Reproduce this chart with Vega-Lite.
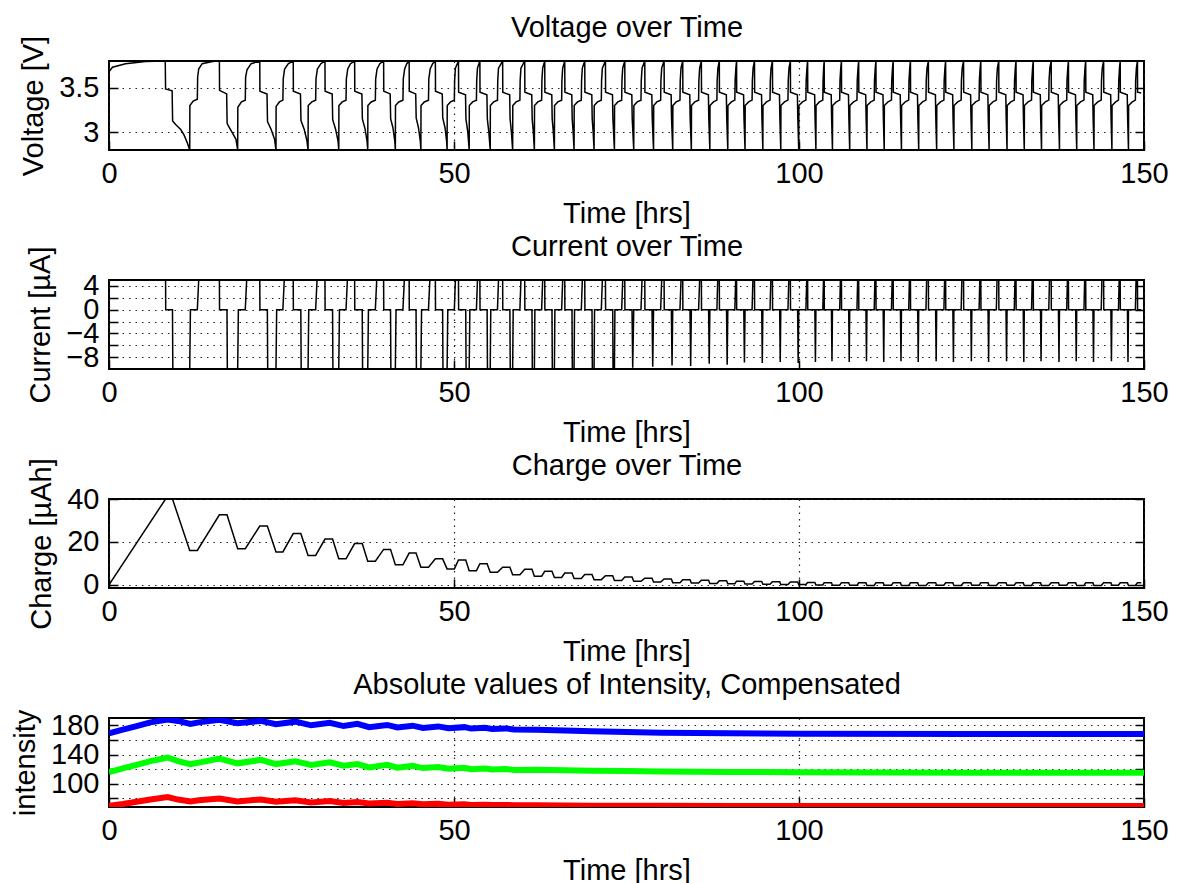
{
"$schema": "https://vega.github.io/schema/vega-lite/v6.json",
"padding": {"left": 10, "top": 12, "right": 5, "bottom": 5},
"config": {
  "font": "Liberation Sans",
  "view": {"stroke": "black", "strokeWidth": 2},
  "axis": {"labelFontSize": 29, "titleFontSize": 29, "titleFontWeight": "normal", "labelColor": "black", "titleColor": "black", "domain": false, "tickColor": "black", "tickSize": -9, "tickWidth": 1.5, "labelPadding": 19, "titlePadding": 10, "gridColor": "#222222", "gridDash": [1.5, 5], "gridWidth": 1.2, "gridOpacity": 1, "labelFlush": false, "labelOverlap": false},
  "axisX": {"labelPadding": 18, "titlePadding": 11}
},
"datasets": {
"volt": [
{"t":0,"v":3.68},{"t":0.5,"v":3.73},{"t":2.4,"v":3.77},{"t":5.3,"v":3.795},{"t":8.15,"v":3.8},{"t":8.2,"v":3.485},{"t":9.15,"v":3.465},{"t":9.22,"v":3.125},{"t":9.66,"v":3.087},{"t":10.39,"v":3.03},{"t":10.87,"v":2.97},{"t":11.35,"v":2.88},{"t":11.7,"v":2.8},{"t":11.72,"v":3.3},{"t":12.2,"v":3.35},{"t":12.8,"v":3.37},
{"t":12.85,"v":3.62},{"t":13.0,"v":3.71},{"t":13.5,"v":3.77},{"t":15.0,"v":3.795},{"t":16.0,"v":3.8},{"t":16.02,"v":3.47},{"t":17.05,"v":3.43},{"t":17.12,"v":3.1},{"t":17.3,"v":3.07},{"t":17.9,"v":2.99},{"t":18.4,"v":2.92},{"t":18.65,"v":2.8},{"t":18.67,"v":3.28},{"t":19.2,"v":3.34},{"t":19.75,"v":3.36},
{"t":19.8,"v":3.62},{"t":20.0,"v":3.7},{"t":20.6,"v":3.77},{"t":21.85,"v":3.8},{"t":21.87,"v":3.46},{"t":22.9,"v":3.43},{"t":22.97,"v":3.12},{"t":23.5,"v":3.03},{"t":24.0,"v":2.92},{"t":24.2,"v":2.8},{"t":24.22,"v":3.29},{"t":24.7,"v":3.34},{"t":25.2,"v":3.36},
{"t":25.25,"v":3.6},{"t":25.45,"v":3.71},{"t":26.0,"v":3.77},{"t":26.7,"v":3.8},{"t":26.72,"v":3.46},{"t":27.75,"v":3.43},{"t":27.82,"v":3.13},{"t":28.3,"v":3.03},{"t":28.7,"v":2.9},{"t":28.85,"v":2.8},{"t":28.87,"v":3.3},{"t":29.4,"v":3.34},{"t":29.95,"v":3.36},
{"t":30.0,"v":3.6},{"t":30.2,"v":3.71},{"t":30.7,"v":3.77},{"t":31.3,"v":3.8},{"t":31.32,"v":3.46},{"t":32.35,"v":3.43},{"t":32.42,"v":3.14},{"t":32.85,"v":3.03},{"t":33.2,"v":2.9},{"t":33.3,"v":2.8},{"t":33.32,"v":3.3},{"t":33.8,"v":3.34},{"t":34.35,"v":3.36},
{"t":34.4,"v":3.6},{"t":34.6,"v":3.71},{"t":35.0,"v":3.77},{"t":35.6,"v":3.8},{"t":35.62,"v":3.46},{"t":36.65,"v":3.43},{"t":36.72,"v":3.15},{"t":37.1,"v":3.04},{"t":37.4,"v":2.9},{"t":37.5,"v":2.8},{"t":37.52,"v":3.3},{"t":38.0,"v":3.34},{"t":38.6,"v":3.36},
{"t":38.65,"v":3.6},{"t":38.85,"v":3.71},{"t":39.25,"v":3.77},{"t":39.8,"v":3.8},{"t":39.82,"v":3.46},{"t":40.75,"v":3.43},{"t":40.82,"v":3.15},{"t":41.15,"v":3.05},{"t":41.42,"v":2.9},{"t":41.5,"v":2.8},{"t":41.52,"v":3.3},{"t":42.0,"v":3.34},{"t":42.6,"v":3.36},
{"t":42.65,"v":3.6},{"t":42.85,"v":3.71},{"t":43.15,"v":3.77},{"t":43.5,"v":3.8},{"t":43.52,"v":3.46},{"t":44.45,"v":3.43},{"t":44.52,"v":3.16},{"t":44.85,"v":3.05},{"t":45.12,"v":2.9},{"t":45.2,"v":2.8},{"t":45.22,"v":3.3},{"t":45.7,"v":3.34},{"t":46.3,"v":3.36},
{"t":46.35,"v":3.6},{"t":46.55,"v":3.71},{"t":46.9,"v":3.77},{"t":47.3,"v":3.8},{"t":47.32,"v":3.46},{"t":48.3,"v":3.43},{"t":48.37,"v":3.16},{"t":48.7,"v":3.05},{"t":48.93,"v":2.9},{"t":49.0,"v":2.8},{"t":49.02,"v":3.3},{"t":49.5,"v":3.34},{"t":50.05,"v":3.36},
{"t":50.09,"v":3.58},{"t":50.2,"v":3.72},{"t":50.65,"v":3.8},{"t":50.67,"v":3.45},{"t":51.67,"v":3.42},{"t":51.73,"v":3.15},{"t":52.0,"v":3.0},{"t":52.2,"v":2.8},{"t":52.22,"v":3.3},{"t":52.7,"v":3.34},
{"t":53.25,"v":3.36},{"t":53.29,"v":3.58},{"t":53.4,"v":3.72},{"t":53.75,"v":3.8},{"t":53.77,"v":3.45},{"t":54.77,"v":3.42},{"t":54.83,"v":3.15},{"t":55.05,"v":3.0},{"t":55.25,"v":2.8},{"t":55.27,"v":3.3},{"t":55.75,"v":3.34},
{"t":56.3,"v":3.36},{"t":56.34,"v":3.58},{"t":56.45,"v":3.72},{"t":57.05,"v":3.8},{"t":57.07,"v":3.45},{"t":58.07,"v":3.42},{"t":58.13,"v":3.15},{"t":58.32,"v":3.0},{"t":58.5,"v":2.8},{"t":58.52,"v":3.3},{"t":59.0,"v":3.34},
{"t":59.55,"v":3.36},{"t":59.59,"v":3.58},{"t":59.7,"v":3.72},{"t":60.25,"v":3.8},{"t":60.27,"v":3.45},{"t":61.27,"v":3.42},{"t":61.33,"v":3.15},{"t":61.5,"v":3.0},{"t":61.65,"v":2.8},{"t":61.67,"v":3.3},{"t":62.15,"v":3.34},
{"t":62.7,"v":3.36},{"t":62.74,"v":3.58},{"t":62.85,"v":3.72},{"t":63.15,"v":3.8},{"t":63.17,"v":3.45},{"t":64.17,"v":3.42},{"t":64.23,"v":3.15},{"t":64.4,"v":3.0},{"t":64.55,"v":2.8},{"t":64.57,"v":3.3},{"t":65.05,"v":3.34},
{"t":65.6,"v":3.36},{"t":65.64,"v":3.58},{"t":65.75,"v":3.72},{"t":66.05,"v":3.8},{"t":66.07,"v":3.45},{"t":67.07,"v":3.42},{"t":67.13,"v":3.15},{"t":67.27,"v":3.0},{"t":67.4,"v":2.8},{"t":67.42,"v":3.3},{"t":67.9,"v":3.34},
{"t":68.45,"v":3.36},{"t":68.49,"v":3.58},{"t":68.6,"v":3.72},{"t":68.95,"v":3.8},{"t":68.97,"v":3.45},{"t":69.97,"v":3.42},{"t":70.03,"v":3.15},{"t":70.17,"v":3.0},{"t":70.3,"v":2.8},{"t":70.32,"v":3.3},{"t":70.8,"v":3.34},
{"t":71.35,"v":3.36},{"t":71.39,"v":3.58},{"t":71.5,"v":3.72},{"t":71.95,"v":3.8},{"t":71.97,"v":3.45},{"t":72.97,"v":3.42},{"t":73.03,"v":3.15},{"t":73.25,"v":2.8},{"t":73.27,"v":3.3},{"t":73.75,"v":3.34},
{"t":74.3,"v":3.36},{"t":74.34,"v":3.58},{"t":74.45,"v":3.72},{"t":74.75,"v":3.8},{"t":74.77,"v":3.45},{"t":75.77,"v":3.42},{"t":75.83,"v":3.15},{"t":76.05,"v":2.8},{"t":76.07,"v":3.3},{"t":76.55,"v":3.34},
{"t":77.1,"v":3.36},{"t":77.14,"v":3.58},{"t":77.25,"v":3.72},{"t":77.65,"v":3.8},{"t":77.67,"v":3.45},{"t":78.67,"v":3.42},{"t":78.73,"v":3.15},{"t":78.92,"v":2.8},{"t":78.94,"v":3.3},{"t":79.4,"v":3.34},
{"t":79.95,"v":3.36},{"t":79.99,"v":3.58},{"t":80.1,"v":3.72},{"t":80.45,"v":3.8},{"t":80.47,"v":3.45},{"t":81.47,"v":3.42},{"t":81.53,"v":3.15},{"t":81.7,"v":2.8},{"t":81.72,"v":3.3},{"t":82.2,"v":3.34},
{"t":82.75,"v":3.36},{"t":82.79,"v":3.58},{"t":82.9,"v":3.72},{"t":83.15,"v":3.8},{"t":83.17,"v":3.45},{"t":84.17,"v":3.42},{"t":84.23,"v":3.15},{"t":84.4,"v":2.8},{"t":84.42,"v":3.3},{"t":84.9,"v":3.34},
{"t":85.45,"v":3.36},{"t":85.49,"v":3.58},{"t":85.6,"v":3.72},{"t":85.85,"v":3.8},{"t":85.87,"v":3.45},{"t":86.87,"v":3.42},{"t":86.93,"v":3.15},{"t":87.08,"v":2.8},{"t":87.1,"v":3.3},{"t":87.6,"v":3.34},
{"t":88.1,"v":3.36},{"t":88.14,"v":3.58},{"t":88.25,"v":3.72},{"t":88.45,"v":3.8},{"t":88.47,"v":3.45},{"t":89.47,"v":3.42},{"t":89.53,"v":3.15},{"t":89.68,"v":2.8},{"t":89.7,"v":3.3},{"t":90.2,"v":3.34},
{"t":90.7,"v":3.36},{"t":90.74,"v":3.58},{"t":90.85,"v":3.72},{"t":90.95,"v":3.8},{"t":90.97,"v":3.45},{"t":91.97,"v":3.42},{"t":92.03,"v":3.15},{"t":92.18,"v":2.8},{"t":92.2,"v":3.3},{"t":92.7,"v":3.34},
{"t":93.2,"v":3.36},{"t":93.24,"v":3.58},{"t":93.35,"v":3.72},{"t":93.55,"v":3.8},{"t":93.57,"v":3.45},{"t":94.57,"v":3.42},{"t":94.63,"v":3.15},{"t":94.76,"v":2.8},{"t":94.78,"v":3.3},{"t":95.3,"v":3.34},
{"t":95.8,"v":3.36},{"t":95.84,"v":3.58},{"t":95.95,"v":3.72},{"t":96.15,"v":3.8},{"t":96.17,"v":3.45},{"t":97.17,"v":3.42},{"t":97.23,"v":3.15},{"t":97.36,"v":2.8},{"t":97.38,"v":3.3},{"t":97.9,"v":3.34},
{"t":98.4,"v":3.36},{"t":98.44,"v":3.58},{"t":98.55,"v":3.72},{"t":98.75,"v":3.8},{"t":98.77,"v":3.45},{"t":99.77,"v":3.42},{"t":99.83,"v":3.15},{"t":99.96,"v":2.8},{"t":99.98,"v":3.3},{"t":100.5,"v":3.34},
{"t":101.0,"v":3.36},{"t":101.04,"v":3.58},{"t":101.15,"v":3.72},{"t":101.25,"v":3.8},{"t":101.27,"v":3.45},{"t":102.27,"v":3.42},{"t":102.33,"v":3.15},{"t":102.45,"v":2.8},{"t":102.47,"v":3.3},{"t":102.95,"v":3.34},
{"t":103.45,"v":3.36},{"t":103.49,"v":3.58},{"t":103.57,"v":3.72},{"t":103.65,"v":3.8},{"t":103.67,"v":3.45},{"t":104.67,"v":3.42},{"t":104.73,"v":3.15},{"t":104.85,"v":2.8},{"t":104.87,"v":3.3},{"t":105.4,"v":3.34},
{"t":105.9,"v":3.36},{"t":105.94,"v":3.58},{"t":106.05,"v":3.72},{"t":106.15,"v":3.8},{"t":106.17,"v":3.45},{"t":107.17,"v":3.42},{"t":107.23,"v":3.15},{"t":107.35,"v":2.8},{"t":107.37,"v":3.3},{"t":107.9,"v":3.34},
{"t":108.4,"v":3.36},{"t":108.44,"v":3.58},{"t":108.55,"v":3.72},{"t":108.65,"v":3.8},{"t":108.67,"v":3.45},{"t":109.67,"v":3.42},{"t":109.73,"v":3.15},{"t":109.85,"v":2.8},{"t":109.87,"v":3.3},{"t":110.4,"v":3.34},
{"t":110.9,"v":3.36},{"t":110.94,"v":3.58},{"t":111.05,"v":3.72},{"t":111.15,"v":3.8},{"t":111.17,"v":3.45},{"t":112.17,"v":3.42},{"t":112.23,"v":3.15},{"t":112.35,"v":2.8},{"t":112.37,"v":3.3},{"t":112.9,"v":3.34},
{"t":113.4,"v":3.36},{"t":113.44,"v":3.58},{"t":113.55,"v":3.72},{"t":113.65,"v":3.8},{"t":113.67,"v":3.45},{"t":114.67,"v":3.42},{"t":114.73,"v":3.15},{"t":114.85,"v":2.8},{"t":114.87,"v":3.3},{"t":115.4,"v":3.34},
{"t":115.9,"v":3.36},{"t":115.94,"v":3.58},{"t":116.05,"v":3.72},{"t":116.15,"v":3.8},{"t":116.17,"v":3.45},{"t":117.17,"v":3.42},{"t":117.23,"v":3.15},{"t":117.35,"v":2.8},{"t":117.37,"v":3.3},{"t":117.9,"v":3.34},
{"t":118.4,"v":3.36},{"t":118.44,"v":3.58},{"t":118.55,"v":3.72},{"t":118.75,"v":3.8},{"t":118.77,"v":3.45},{"t":119.77,"v":3.42},{"t":119.83,"v":3.15},{"t":119.95,"v":2.8},{"t":119.97,"v":3.3},{"t":120.5,"v":3.34},
{"t":121.0,"v":3.36},{"t":121.04,"v":3.58},{"t":121.15,"v":3.72},{"t":121.25,"v":3.8},{"t":121.27,"v":3.45},{"t":122.27,"v":3.42},{"t":122.33,"v":3.15},{"t":122.45,"v":2.8},{"t":122.47,"v":3.3},{"t":123.0,"v":3.34},
{"t":123.5,"v":3.36},{"t":123.54,"v":3.58},{"t":123.65,"v":3.72},{"t":123.85,"v":3.8},{"t":123.87,"v":3.45},{"t":124.87,"v":3.42},{"t":124.93,"v":3.15},{"t":125.05,"v":2.8},{"t":125.07,"v":3.3},{"t":125.6,"v":3.34},
{"t":126.1,"v":3.36},{"t":126.14,"v":3.58},{"t":126.25,"v":3.72},{"t":126.35,"v":3.8},{"t":126.37,"v":3.45},{"t":127.37,"v":3.42},{"t":127.43,"v":3.15},{"t":127.55,"v":2.8},{"t":127.57,"v":3.3},{"t":128.1,"v":3.34},
{"t":128.6,"v":3.36},{"t":128.64,"v":3.58},{"t":128.75,"v":3.72},{"t":128.95,"v":3.8},{"t":128.97,"v":3.45},{"t":129.97,"v":3.42},{"t":130.03,"v":3.15},{"t":130.15,"v":2.8},{"t":130.17,"v":3.3},{"t":130.7,"v":3.34},
{"t":131.2,"v":3.36},{"t":131.24,"v":3.58},{"t":131.35,"v":3.72},{"t":131.45,"v":3.8},{"t":131.47,"v":3.45},{"t":132.47,"v":3.42},{"t":132.53,"v":3.15},{"t":132.65,"v":2.8},{"t":132.67,"v":3.3},{"t":133.2,"v":3.34},
{"t":133.7,"v":3.36},{"t":133.74,"v":3.58},{"t":133.85,"v":3.72},{"t":133.95,"v":3.8},{"t":133.97,"v":3.45},{"t":134.97,"v":3.42},{"t":135.03,"v":3.15},{"t":135.15,"v":2.8},{"t":135.17,"v":3.3},{"t":135.7,"v":3.34},
{"t":136.2,"v":3.36},{"t":136.24,"v":3.58},{"t":136.35,"v":3.72},{"t":136.55,"v":3.8},{"t":136.57,"v":3.45},{"t":137.57,"v":3.42},{"t":137.63,"v":3.15},{"t":137.75,"v":2.8},{"t":137.77,"v":3.3},{"t":138.3,"v":3.34},
{"t":138.8,"v":3.36},{"t":138.84,"v":3.58},{"t":138.95,"v":3.72},{"t":139.05,"v":3.8},{"t":139.07,"v":3.45},{"t":140.07,"v":3.42},{"t":140.13,"v":3.15},{"t":140.25,"v":2.8},{"t":140.27,"v":3.3},{"t":140.8,"v":3.34},
{"t":141.3,"v":3.36},{"t":141.34,"v":3.58},{"t":141.45,"v":3.72},{"t":141.55,"v":3.8},{"t":141.57,"v":3.45},{"t":142.57,"v":3.42},{"t":142.63,"v":3.15},{"t":142.75,"v":2.8},{"t":142.77,"v":3.3},{"t":143.3,"v":3.34},
{"t":143.8,"v":3.36},{"t":143.84,"v":3.58},{"t":143.95,"v":3.72},{"t":144.15,"v":3.8},{"t":144.17,"v":3.45},{"t":145.17,"v":3.42},{"t":145.23,"v":3.15},{"t":145.35,"v":2.8},{"t":145.37,"v":3.3},{"t":145.9,"v":3.34},
{"t":146.3,"v":3.36},{"t":146.34,"v":3.58},{"t":146.45,"v":3.72},{"t":146.55,"v":3.8},{"t":146.57,"v":3.45},{"t":147.57,"v":3.42},{"t":147.63,"v":3.15},{"t":147.75,"v":2.8},{"t":147.77,"v":3.3},{"t":148.3,"v":3.34},
{"t":148.75,"v":3.36},{"t":148.79,"v":3.58},{"t":148.9,"v":3.72},{"t":149.05,"v":3.8},{"t":149.07,"v":3.45},{"t":149.6,"v":3.44}
],
"curr": [
{"t":0,"i":5},{"t":8.2,"i":5},{"t":8.22,"i":0},{"t":9.2,"i":0},{"t":9.25,"i":-10},{"t":11.7,"i":-10},{"t":11.8,"i":0},{"t":12.8,"i":0},{"t":13.0,"i":5},
{"t":16.0,"i":5},{"t":16.02,"i":0},{"t":17.1,"i":0},{"t":17.15,"i":-10},{"t":18.65,"i":-10},{"t":18.75,"i":0},{"t":19.75,"i":0},{"t":19.95,"i":5},
{"t":21.85,"i":5},{"t":21.87,"i":0},{"t":22.95,"i":0},{"t":23.0,"i":-10},{"t":24.2,"i":-10},{"t":24.3,"i":0},{"t":25.2,"i":0},{"t":25.4,"i":5},
{"t":26.7,"i":5},{"t":26.72,"i":0},{"t":27.8,"i":0},{"t":27.85,"i":-10},{"t":28.85,"i":-10},{"t":28.95,"i":0},{"t":29.95,"i":0},{"t":30.15,"i":5},
{"t":31.3,"i":5},{"t":31.32,"i":0},{"t":32.4,"i":0},{"t":32.45,"i":-10},{"t":33.3,"i":-10},{"t":33.4,"i":0},{"t":34.35,"i":0},{"t":34.55,"i":5},
{"t":35.6,"i":5},{"t":35.62,"i":0},{"t":36.7,"i":0},{"t":36.75,"i":-10},{"t":37.5,"i":-10},{"t":37.6,"i":0},{"t":38.6,"i":0},{"t":38.8,"i":5},
{"t":39.8,"i":5},{"t":39.82,"i":0},{"t":40.8,"i":0},{"t":40.85,"i":-10},{"t":41.5,"i":-10},{"t":41.6,"i":0},{"t":42.6,"i":0},{"t":42.8,"i":5},
{"t":43.5,"i":5},{"t":43.52,"i":0},{"t":44.5,"i":0},{"t":44.55,"i":-10},{"t":45.2,"i":-10},{"t":45.3,"i":0},{"t":46.3,"i":0},{"t":46.5,"i":5},
{"t":47.3,"i":5},{"t":47.32,"i":0},{"t":48.35,"i":0},{"t":48.4,"i":-10},{"t":49.0,"i":-10},{"t":49.1,"i":0},{"t":50.05,"i":0},{"t":50.2,"i":5},
{"t":50.65,"i":5},{"t":50.67,"i":0},{"t":51.7,"i":0},{"t":51.75,"i":-10},{"t":52.2,"i":-10},{"t":52.3,"i":0},{"t":53.25,"i":0},{"t":53.4,"i":5},
{"t":53.75,"i":5},{"t":53.77,"i":0},{"t":54.8,"i":0},{"t":54.85,"i":-10},{"t":55.25,"i":-10},{"t":55.33,"i":0},{"t":56.3,"i":0},{"t":56.45,"i":5},
{"t":57.05,"i":5},{"t":57.07,"i":0},{"t":58.1,"i":0},{"t":58.15,"i":-10},{"t":58.5,"i":-10},{"t":58.58,"i":0},{"t":59.55,"i":0},{"t":59.7,"i":5},
{"t":60.25,"i":5},{"t":60.27,"i":0},{"t":61.3,"i":0},{"t":61.35,"i":-10},{"t":61.65,"i":-10},{"t":61.72,"i":0},{"t":62.7,"i":0},{"t":62.85,"i":5},
{"t":63.15,"i":5},{"t":63.17,"i":0},{"t":64.2,"i":0},{"t":64.25,"i":-10},{"t":64.55,"i":-10},{"t":64.62,"i":0},{"t":65.6,"i":0},{"t":65.75,"i":5},
{"t":66.05,"i":5},{"t":66.07,"i":0},{"t":67.1,"i":0},{"t":67.15,"i":-10},{"t":67.4,"i":-10},{"t":67.47,"i":0},{"t":68.45,"i":0},{"t":68.6,"i":5},
{"t":68.95,"i":5},{"t":68.97,"i":0},{"t":70.0,"i":0},{"t":70.05,"i":-10},{"t":70.3,"i":-10},{"t":70.37,"i":0},{"t":71.35,"i":0},{"t":71.5,"i":5},
{"t":71.95,"i":5},{"t":71.97,"i":0},{"t":73.0,"i":0},{"t":73.05,"i":-10},{"t":73.25,"i":-10},{"t":73.32,"i":0},{"t":74.3,"i":0},{"t":74.45,"i":5},
{"t":74.75,"i":5},{"t":74.77,"i":0},{"t":75.8,"i":0},{"t":75.9,"i":-9.8},{"t":76.05,"i":0},{"t":77.1,"i":0},{"t":77.25,"i":5},
{"t":77.65,"i":5},{"t":77.67,"i":0},{"t":78.7,"i":0},{"t":78.8,"i":-9.6},{"t":78.92,"i":0},{"t":79.95,"i":0},{"t":80.1,"i":5},
{"t":80.45,"i":5},{"t":80.47,"i":0},{"t":81.5,"i":0},{"t":81.6,"i":-9.4},{"t":81.7,"i":0},{"t":82.75,"i":0},{"t":82.9,"i":5},
{"t":83.15,"i":5},{"t":83.17,"i":0},{"t":84.2,"i":0},{"t":84.3,"i":-9.5},{"t":84.4,"i":0},{"t":85.45,"i":0},{"t":85.6,"i":5},
{"t":85.85,"i":5},{"t":85.87,"i":0},{"t":86.9,"i":0},{"t":86.99,"i":-9.1},{"t":87.08,"i":0},{"t":88.1,"i":0},{"t":88.22,"i":5},
{"t":88.45,"i":5},{"t":88.47,"i":0},{"t":89.5,"i":0},{"t":89.59,"i":-9.3},{"t":89.68,"i":0},{"t":90.7,"i":0},{"t":90.82,"i":5},
{"t":90.95,"i":5},{"t":90.97,"i":0},{"t":92.0,"i":0},{"t":92.09,"i":-8.9},{"t":92.18,"i":0},{"t":93.2,"i":0},{"t":93.32,"i":5},
{"t":93.55,"i":5},{"t":93.57,"i":0},{"t":94.6,"i":0},{"t":94.68,"i":-9.0},{"t":94.76,"i":0},{"t":95.8,"i":0},{"t":95.92,"i":5},
{"t":96.15,"i":5},{"t":96.17,"i":0},{"t":97.2,"i":0},{"t":97.28,"i":-8.8},{"t":97.36,"i":0},{"t":98.4,"i":0},{"t":98.52,"i":5},
{"t":98.75,"i":5},{"t":98.77,"i":0},{"t":99.8,"i":0},{"t":99.88,"i":-9.0},{"t":99.96,"i":0},{"t":101.0,"i":0},{"t":101.12,"i":5},
{"t":101.25,"i":5},{"t":101.27,"i":0},{"t":102.3,"i":0},{"t":102.38,"i":-8.8},{"t":102.45,"i":0},{"t":103.45,"i":0},{"t":103.55,"i":5},
{"t":103.65,"i":5},{"t":103.67,"i":0},{"t":104.7,"i":0},{"t":104.78,"i":-8.7},{"t":104.85,"i":0},{"t":105.9,"i":0},{"t":106.0,"i":5},
{"t":106.15,"i":5},{"t":106.17,"i":0},{"t":107.2,"i":0},{"t":107.28,"i":-8.8},{"t":107.35,"i":0},{"t":108.4,"i":0},{"t":108.5,"i":5},
{"t":108.65,"i":5},{"t":108.67,"i":0},{"t":109.7,"i":0},{"t":109.78,"i":-8.7},{"t":109.85,"i":0},{"t":110.9,"i":0},{"t":111.0,"i":5},
{"t":111.15,"i":5},{"t":111.17,"i":0},{"t":112.2,"i":0},{"t":112.28,"i":-8.8},{"t":112.35,"i":0},{"t":113.4,"i":0},{"t":113.5,"i":5},
{"t":113.65,"i":5},{"t":113.67,"i":0},{"t":114.7,"i":0},{"t":114.78,"i":-8.7},{"t":114.85,"i":0},{"t":115.9,"i":0},{"t":116.0,"i":5},
{"t":116.15,"i":5},{"t":116.17,"i":0},{"t":117.2,"i":0},{"t":117.28,"i":-8.8},{"t":117.35,"i":0},{"t":118.4,"i":0},{"t":118.5,"i":5},
{"t":118.75,"i":5},{"t":118.77,"i":0},{"t":119.8,"i":0},{"t":119.88,"i":-8.7},{"t":119.95,"i":0},{"t":121.0,"i":0},{"t":121.1,"i":5},
{"t":121.25,"i":5},{"t":121.27,"i":0},{"t":122.3,"i":0},{"t":122.38,"i":-8.8},{"t":122.45,"i":0},{"t":123.5,"i":0},{"t":123.6,"i":5},
{"t":123.85,"i":5},{"t":123.87,"i":0},{"t":124.9,"i":0},{"t":124.98,"i":-8.7},{"t":125.05,"i":0},{"t":126.1,"i":0},{"t":126.2,"i":5},
{"t":126.35,"i":5},{"t":126.37,"i":0},{"t":127.4,"i":0},{"t":127.48,"i":-8.8},{"t":127.55,"i":0},{"t":128.6,"i":0},{"t":128.7,"i":5},
{"t":128.95,"i":5},{"t":128.97,"i":0},{"t":130.0,"i":0},{"t":130.08,"i":-8.7},{"t":130.15,"i":0},{"t":131.2,"i":0},{"t":131.3,"i":5},
{"t":131.45,"i":5},{"t":131.47,"i":0},{"t":132.5,"i":0},{"t":132.58,"i":-8.8},{"t":132.65,"i":0},{"t":133.7,"i":0},{"t":133.8,"i":5},
{"t":133.95,"i":5},{"t":133.97,"i":0},{"t":135.0,"i":0},{"t":135.08,"i":-8.7},{"t":135.15,"i":0},{"t":136.2,"i":0},{"t":136.3,"i":5},
{"t":136.55,"i":5},{"t":136.57,"i":0},{"t":137.6,"i":0},{"t":137.68,"i":-8.8},{"t":137.75,"i":0},{"t":138.8,"i":0},{"t":138.9,"i":5},
{"t":139.05,"i":5},{"t":139.07,"i":0},{"t":140.1,"i":0},{"t":140.18,"i":-8.7},{"t":140.25,"i":0},{"t":141.3,"i":0},{"t":141.4,"i":5},
{"t":141.55,"i":5},{"t":141.57,"i":0},{"t":142.6,"i":0},{"t":142.68,"i":-8.8},{"t":142.75,"i":0},{"t":143.8,"i":0},{"t":143.9,"i":5},
{"t":144.15,"i":5},{"t":144.17,"i":0},{"t":145.2,"i":0},{"t":145.28,"i":-8.7},{"t":145.35,"i":0},{"t":146.3,"i":0},{"t":146.4,"i":5},
{"t":146.55,"i":5},{"t":146.57,"i":0},{"t":147.6,"i":0},{"t":147.68,"i":-8.8},{"t":147.75,"i":0},{"t":148.75,"i":0},{"t":148.85,"i":5},
{"t":149.05,"i":5},{"t":149.07,"i":0},{"t":149.6,"i":0}
],
"chg": [
{"t":0,"q":0},{"t":8.2,"q":40},{"t":9.2,"q":40},{"t":11.7,"q":16},
{"t":12.8,"q":16},{"t":16.0,"q":32.6},{"t":17.1,"q":32.6},{"t":18.65,"q":16.8},
{"t":19.75,"q":16.8},{"t":21.85,"q":27.4},{"t":22.95,"q":27.4},{"t":24.2,"q":15.3},
{"t":25.2,"q":15.3},{"t":26.7,"q":23.9},{"t":27.8,"q":23.9},{"t":28.85,"q":13.7},
{"t":29.95,"q":13.7},{"t":31.3,"q":21.3},{"t":32.4,"q":21.3},{"t":33.3,"q":12.1},
{"t":34.35,"q":12.1},{"t":35.6,"q":19.2},{"t":36.7,"q":19.2},{"t":37.5,"q":11.0},
{"t":38.6,"q":11.0},{"t":39.8,"q":16.5},{"t":40.8,"q":16.5},{"t":41.5,"q":9.3},
{"t":42.6,"q":9.3},{"t":43.5,"q":14.8},{"t":44.5,"q":14.8},{"t":45.2,"q":8.2},
{"t":46.3,"q":8.2},{"t":47.3,"q":12.1},{"t":48.35,"q":12.1},{"t":49.0,"q":7.4},
{"t":50.05,"q":7.4},{"t":50.65,"q":11.6},{"t":51.7,"q":11.6},{"t":52.2,"q":6.6},
{"t":53.25,"q":6.6},{"t":53.75,"q":9.8},{"t":54.8,"q":9.8},{"t":55.25,"q":5.8},
{"t":56.3,"q":5.8},{"t":57.05,"q":8.2},{"t":58.1,"q":8.2},{"t":58.5,"q":4.7},
{"t":59.55,"q":4.7},{"t":60.25,"q":7.2},{"t":61.3,"q":7.2},{"t":61.65,"q":4.0},
{"t":62.7,"q":4.0},{"t":63.15,"q":6.3},{"t":64.2,"q":6.3},{"t":64.55,"q":3.4},
{"t":65.6,"q":3.4},{"t":66.05,"q":5.5},{"t":67.1,"q":5.5},{"t":67.4,"q":2.9},
{"t":68.45,"q":2.9},{"t":68.95,"q":4.8},{"t":70.0,"q":4.8},{"t":70.3,"q":2.4},
{"t":71.35,"q":2.4},{"t":71.95,"q":4.2},{"t":73.0,"q":4.2},{"t":73.25,"q":2.0},
{"t":74.3,"q":2.0},{"t":74.75,"q":3.6},{"t":75.8,"q":3.6},{"t":76.05,"q":1.6},
{"t":77.1,"q":1.6},{"t":77.65,"q":3.1},{"t":78.7,"q":3.1},{"t":78.92,"q":1.3},
{"t":79.95,"q":1.3},{"t":80.45,"q":2.7},{"t":81.5,"q":2.7},{"t":81.7,"q":1.0},
{"t":82.75,"q":1.0},{"t":83.15,"q":2.4},{"t":84.2,"q":2.4},{"t":84.4,"q":0.8},
{"t":85.45,"q":0.8},{"t":85.85,"q":2.1},{"t":86.9,"q":2.1},{"t":87.08,"q":0.6},
{"t":88.1,"q":0.6},{"t":88.45,"q":1.9},{"t":89.5,"q":1.9},{"t":89.68,"q":0.5},
{"t":90.7,"q":0.5},{"t":90.95,"q":1.7},{"t":92.0,"q":1.7},{"t":92.18,"q":0.35},
{"t":93.2,"q":0.35},{"t":93.55,"q":1.5},{"t":94.6,"q":1.5},{"t":94.76,"q":0.25},
{"t":95.8,"q":0.25},{"t":96.15,"q":1.4},{"t":97.2,"q":1.4},{"t":97.36,"q":0.15},
{"t":98.4,"q":0.15},{"t":98.75,"q":1.3},{"t":99.8,"q":1.3},{"t":99.96,"q":0.1},
{"t":101.0,"q":0.1},{"t":101.25,"q":1.1},{"t":102.3,"q":1.1},{"t":102.45,"q":-0.1},
{"t":103.45,"q":-0.1},{"t":103.65,"q":1.0},{"t":104.7,"q":1.0},{"t":104.85,"q":-0.2},
{"t":105.9,"q":-0.2},{"t":106.15,"q":1.0},{"t":107.2,"q":1.0},{"t":107.35,"q":-0.2},
{"t":108.4,"q":-0.2},{"t":108.65,"q":0.9},{"t":109.7,"q":0.9},{"t":109.85,"q":-0.3},
{"t":110.9,"q":-0.3},{"t":111.15,"q":1.0},{"t":112.2,"q":1.0},{"t":112.35,"q":-0.2},
{"t":113.4,"q":-0.2},{"t":113.65,"q":0.9},{"t":114.7,"q":0.9},{"t":114.85,"q":-0.3},
{"t":115.9,"q":-0.3},{"t":116.15,"q":0.9},{"t":117.2,"q":0.9},{"t":117.35,"q":-0.3},
{"t":118.4,"q":-0.3},{"t":118.75,"q":1.0},{"t":119.8,"q":1.0},{"t":119.95,"q":-0.2},
{"t":121.0,"q":-0.2},{"t":121.25,"q":0.9},{"t":122.3,"q":0.9},{"t":122.45,"q":-0.3},
{"t":123.5,"q":-0.3},{"t":123.85,"q":1.0},{"t":124.9,"q":1.0},{"t":125.05,"q":-0.2},
{"t":126.1,"q":-0.2},{"t":126.35,"q":0.9},{"t":127.4,"q":0.9},{"t":127.55,"q":-0.3},
{"t":128.6,"q":-0.3},{"t":128.95,"q":1.0},{"t":130.0,"q":1.0},{"t":130.15,"q":-0.2},
{"t":131.2,"q":-0.2},{"t":131.45,"q":0.9},{"t":132.5,"q":0.9},{"t":132.65,"q":-0.3},
{"t":133.7,"q":-0.3},{"t":133.95,"q":0.9},{"t":135.0,"q":0.9},{"t":135.15,"q":-0.3},
{"t":136.2,"q":-0.3},{"t":136.55,"q":1.0},{"t":137.6,"q":1.0},{"t":137.75,"q":-0.2},
{"t":138.8,"q":-0.2},{"t":139.05,"q":0.9},{"t":140.1,"q":0.9},{"t":140.25,"q":-0.3},
{"t":141.3,"q":-0.3},{"t":141.55,"q":0.9},{"t":142.6,"q":0.9},{"t":142.75,"q":-0.3},
{"t":143.8,"q":-0.3},{"t":144.15,"q":1.0},{"t":145.2,"q":1.0},{"t":145.35,"q":-0.2},
{"t":146.3,"q":-0.2},{"t":146.55,"q":0.9},{"t":147.6,"q":0.9},{"t":147.75,"q":-0.3},
{"t":148.75,"q":-0.3},{"t":149.05,"q":1.0},{"t":149.6,"q":1.0}
],
"inten": [
{"t":0,"b":169,"g":116,"r":70},{"t":2,"b":174,"g":121,"r":72.5},{"t":4,"b":179,"g":126,"r":75.5},{"t":6,"b":184,"g":131,"r":78.5},{"t":8.5,"b":188,"g":136,"r":82},{"t":10,"b":186,"g":131,"r":78.5},{"t":11.8,"b":182,"g":127,"r":76},{"t":13,"b":184,"g":129,"r":77.5},{"t":16,"b":187.5,"g":134.5,"r":80},{"t":18.6,"b":183,"g":128,"r":76},{"t":22,"b":186,"g":132.7,"r":78.6},{"t":24.2,"b":181.5,"g":127,"r":75.5},{"t":27,"b":185,"g":130.7,"r":77.5},{"t":29.3,"b":180,"g":125.8,"r":74.5},{"t":32,"b":183.5,"g":129.4,"r":76.5},{"t":34,"b":179,"g":124.8,"r":73.8},{"t":36,"b":182,"g":127,"r":75},{"t":37.7,"b":177.5,"g":122.5,"r":73.2},{"t":40.3,"b":180.5,"g":126,"r":74.2},{"t":41.8,"b":177,"g":122,"r":72.5},{"t":44,"b":179.5,"g":124.5,"r":73.3},{"t":45.5,"b":176.5,"g":121.5,"r":72},{"t":47.7,"b":178.5,"g":123,"r":72.6},{"t":49.2,"b":176,"g":120.5,"r":71.5},{"t":51.5,"b":177.5,"g":122,"r":72},{"t":52.5,"b":175.5,"g":120,"r":71.2},{"t":54.5,"b":176.5,"g":121,"r":71.5},{"t":55.5,"b":175,"g":119.5,"r":70.9},{"t":57.5,"b":175.8,"g":120.3,"r":71.2},{"t":58.7,"b":174.2,"g":119,"r":70.6},{"t":62,"b":174,"g":119.2,"r":70.6},{"t":66,"b":173,"g":118.5,"r":70.3},{"t":70,"b":172,"g":118,"r":70.1},{"t":75,"b":171,"g":117.5,"r":70},{"t":80,"b":170,"g":117,"r":69.9},{"t":90,"b":169,"g":116.3,"r":69.7},{"t":100,"b":168.5,"g":115.8,"r":69.6},{"t":125,"b":168.2,"g":115.3,"r":69.5},{"t":150,"b":168,"g":115,"r":69.5}
]
},
"spacing": 130,
"bounds": "flush",
"vconcat": [
{
 "width": 1035, "height": 89,
 "data": {"name": "volt"},
 "layer": [
  {"mark": {"type": "line", "clip": true, "strokeWidth": 1.5, "color": "black"},
   "encoding": {
    "x": {"field": "t", "type": "quantitative", "scale": {"domain": [0, 150], "nice": false, "zero": false}, "axis": {"title": "Time [hrs]", "values": [0, 50, 100, 150], "format": "d"}},
    "y": {"field": "v", "type": "quantitative", "scale": {"domain": [2.8, 3.8], "nice": false, "zero": false}, "axis": {"title": "Voltage [V]", "values": [3, 3.5], "format": "~g"}}
   }},
  {"mark": {"type": "line", "opacity": 0},
   "encoding": {
    "x": {"field": "t", "type": "quantitative", "axis": {"orient": "top", "title": "Voltage over Time", "labels": false, "ticks": false, "grid": false, "domain": false, "titlePadding": 19}},
    "y": {"field": "v", "type": "quantitative", "axis": {"orient": "right", "labels": false, "grid": false, "title": null, "values": [3, 3.5]}}
   }}
 ],
 "resolve": {"axis": {"x": "independent", "y": "independent"}}
},
{
 "width": 1035, "height": 89,
 "data": {"name": "curr"},
 "layer": [
  {"mark": {"type": "line", "clip": true, "strokeWidth": 1.5, "color": "black"},
   "encoding": {
    "x": {"field": "t", "type": "quantitative", "scale": {"domain": [0, 150], "nice": false, "zero": false}, "axis": {"title": "Time [hrs]", "values": [0, 50, 100, 150], "format": "d"}},
    "y": {"field": "i", "type": "quantitative", "scale": {"domain": [-10, 5], "nice": false, "zero": false}, "axis": {"title": "Current [µA]", "values": [-8, -6, -4, -2, 0, 2, 4], "format": "d", "labelExpr": "datum.value % 4 === 0 ? datum.label : ''"}}
   }},
  {"mark": {"type": "line", "opacity": 0},
   "encoding": {
    "x": {"field": "t", "type": "quantitative", "axis": {"orient": "top", "title": "Current over Time", "labels": false, "ticks": false, "grid": false, "domain": false, "titlePadding": 19}},
    "y": {"field": "i", "type": "quantitative", "axis": {"orient": "right", "labels": false, "grid": false, "title": null, "values": [-8, -6, -4, -2, 0, 2, 4]}}
   }}
 ],
 "resolve": {"axis": {"x": "independent", "y": "independent"}}
},
{
 "width": 1035, "height": 89,
 "data": {"name": "chg"},
 "layer": [
  {"mark": {"type": "line", "clip": true, "strokeWidth": 1.5, "color": "black"},
   "encoding": {
    "x": {"field": "t", "type": "quantitative", "scale": {"domain": [0, 150], "nice": false, "zero": false}, "axis": {"title": "Time [hrs]", "values": [0, 50, 100, 150], "format": "d"}},
    "y": {"field": "q", "type": "quantitative", "scale": {"domain": [-1.5, 40], "nice": false, "zero": false}, "axis": {"title": "Charge [µAh]", "values": [0, 20, 40], "format": "d"}}
   }},
  {"mark": {"type": "line", "opacity": 0},
   "encoding": {
    "x": {"field": "t", "type": "quantitative", "axis": {"orient": "top", "title": "Charge over Time", "labels": false, "ticks": false, "grid": false, "domain": false, "titlePadding": 19}},
    "y": {"field": "q", "type": "quantitative", "axis": {"orient": "right", "labels": false, "grid": false, "title": null, "values": [0, 20, 40]}}
   }}
 ],
 "resolve": {"axis": {"x": "independent", "y": "independent"}}
},
{
 "width": 1035, "height": 89,
 "data": {"name": "inten"},
 "layer": [
  {"mark": {"type": "line", "clip": true, "strokeWidth": 6, "color": "#0000ff"},
   "encoding": {
    "x": {"field": "t", "type": "quantitative", "scale": {"domain": [0, 150], "nice": false, "zero": false}, "axis": {"title": "Time [hrs]", "values": [0, 50, 100, 150], "format": "d"}},
    "y": {"field": "b", "type": "quantitative", "scale": {"domain": [68.3, 190], "nice": false, "zero": false}, "axis": {"title": "intensity", "values": [80, 100, 120, 140, 160, 180], "format": "d", "labelExpr": "(datum.value - 100) % 40 === 0 ? datum.label : ''"}}
   }},
  {"mark": {"type": "line", "clip": true, "strokeWidth": 6, "color": "#00ff00"},
   "encoding": {
    "x": {"field": "t", "type": "quantitative", "axis": null},
    "y": {"field": "g", "type": "quantitative", "axis": null}
   }},
  {"mark": {"type": "line", "clip": true, "strokeWidth": 6, "color": "#ff0000"},
   "encoding": {
    "x": {"field": "t", "type": "quantitative", "axis": null},
    "y": {"field": "r", "type": "quantitative", "axis": null}
   }},
  {"mark": {"type": "line", "opacity": 0},
   "encoding": {
    "x": {"field": "t", "type": "quantitative", "axis": {"orient": "top", "title": "Absolute values of Intensity, Compensated", "labels": false, "ticks": false, "grid": false, "domain": false, "titlePadding": 19}},
    "y": {"field": "b", "type": "quantitative", "axis": {"orient": "right", "labels": false, "grid": false, "title": null, "values": [80, 100, 120, 140, 160, 180]}}
   }}
 ],
 "resolve": {"axis": {"x": "independent", "y": "independent"}}
}
]
}
